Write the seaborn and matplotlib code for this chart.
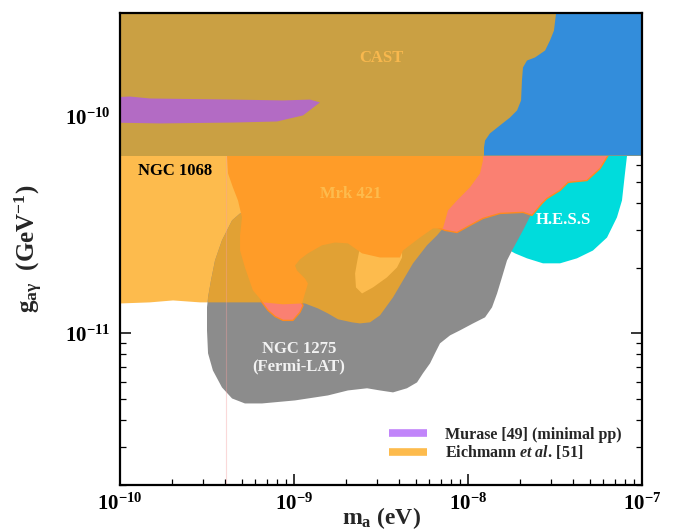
import numpy as np
import matplotlib
matplotlib.use('Agg')
import matplotlib.pyplot as plt
import seaborn as sns
from matplotlib.lines import Line2D

# all region boundaries are log10(m_a / eV) and log10(g / GeV^-1)
cast_limit = 6.6e-11
line_ma = 4.06e-10

blue_lm = [-7.494, -7.494, -7.506, -7.529, -7.557, -7.615, -7.661, -7.684, -7.690, -7.695,
           -7.718, -7.759, -7.816, -7.874, -7.902, -7.908, -7.908, -6.9, -6.9]
blue_lg = [-9.49, -9.525, -9.604, -9.650, -9.696, -9.728, -9.742, -9.774, -9.834, -9.926,
           -9.972, -10.005, -10.041, -10.078, -10.111, -10.143, -10.180, -10.180, -9.49]

murase_lm = [-10.06, -9.943, -9.828, -9.351, -9.063, -8.908, -8.851, -8.948, -9.098, -9.351, -9.770, -10.06]
murase_lg = [-9.912, -9.908, -9.917, -9.922, -9.926, -9.922, -9.935, -9.995, -10.023, -10.028, -10.032, -10.028]

eich_lm = [-10.12, -9.253, -9.253, -9.368, -9.540, -9.695, -9.828, -10.0, -10.12]
eich_lg = [-10.11, -10.11, -10.857, -10.857, -10.857, -10.848, -10.857, -10.862, -10.862]

hess_lm = [-7.241, -7.086, -7.086, -7.098, -7.115, -7.144, -7.201, -7.282, -7.374, -7.471,
           -7.569, -7.661, -7.730, -7.759, -7.787, -7.730, -7.586, -7.414]
hess_lg = [-10.111, -10.111, -10.180, -10.263, -10.387, -10.465, -10.558, -10.618, -10.654, -10.677,
           -10.677, -10.654, -10.631, -10.618, -10.594, -10.479, -10.341, -10.203]

ngc1275_lm = [-9.494, -9.477, -9.454, -9.414, -9.356, -9.310, -8.966, -8.391, -8.161, -7.989,
              -7.816, -7.644, -7.638, -7.684, -7.747, -7.776, -7.805, -7.833, -7.862, -7.902,
              -7.971, -8.046, -8.103, -8.161, -8.190, -8.218, -8.259, -8.293, -8.351, -8.431,
              -8.506, -8.580, -8.690, -8.805, -8.994, -9.184, -9.282, -9.356, -9.414, -9.466,
              -9.494, -9.500, -9.500]
ngc1275_lg = [-10.834, -10.756, -10.664, -10.571, -10.479, -10.447, -10.488, -10.553, -10.516, -10.479,
              -10.419, -10.410, -10.452, -10.525, -10.618, -10.664, -10.742, -10.816, -10.880, -10.926,
              -10.954, -10.986, -11.009, -11.046, -11.092, -11.138, -11.184, -11.226, -11.253, -11.272,
              -11.263, -11.253, -11.263, -11.286, -11.309, -11.323, -11.323, -11.300, -11.249, -11.171,
              -11.092, -10.986, -10.880]

tan_lm = [-9.494, -9.494, -9.477, -9.454, -9.414, -9.356, -9.310, -9.195, -8.966, -8.678,
          -8.391, -8.218, -8.144, -8.178, -8.236, -8.316, -8.374, -8.431, -8.506, -8.563,
          -8.621, -8.667, -8.747, -8.805, -8.862, -8.937, -9.080, -9.282]
tan_lg = [-10.857, -10.834, -10.756, -10.664, -10.571, -10.479, -10.447, -10.456, -10.502, -10.548,
          -10.571, -10.507, -10.516, -10.548, -10.594, -10.677, -10.756, -10.834, -10.917, -10.949,
          -10.954, -10.949, -10.935, -10.908, -10.885, -10.862, -10.857, -10.857]

island_lm = [-8.621, -8.638, -8.649, -8.644, -8.609, -8.546, -8.466, -8.408, -8.379, -8.379, -8.506]
island_lg = [-10.604, -10.673, -10.724, -10.788, -10.816, -10.788, -10.742, -10.696, -10.650, -10.599, -10.594]

salmon_lm = [-8.161, -7.184, -7.195, -7.241, -7.316, -7.425, -7.471, -7.546, -7.575, -7.632,
             -7.684, -7.816, -7.914, -7.989, -8.063, -8.132, -8.190, -8.391, -8.736, -8.879,
             -9.052, -8.994, -8.966, -8.948, -8.966, -9.006, -9.063, -9.109, -9.149, -9.184,
             -9.207, -9.253, -9.253, -8.966]
salmon_lg = [-10.111, -10.111, -10.180, -10.240, -10.295, -10.304, -10.341, -10.378, -10.401, -10.456,
             -10.442, -10.447, -10.470, -10.502, -10.535, -10.525, -10.507, -10.571, -10.562, -10.594,
             -10.700, -10.802, -10.848, -10.871, -10.903, -10.940, -10.940, -10.922, -10.894, -10.857,
             -10.802, -10.664, -10.387, -10.203]

mrk421_lm = [-9.385, -9.385, -9.379, -9.351, -9.322, -9.299, -9.310, -9.310, -9.282, -9.236,
             -9.178, -9.063, -8.954, -8.920, -8.937, -8.983, -8.994, -8.966, -8.920, -8.839,
             -8.764, -8.690, -8.609, -8.506, -8.391, -8.374, -8.276, -8.201, -8.144, -8.115,
             -8.063, -7.989, -7.931, -7.914, -7.908]
mrk421_lg = [-10.111, -10.180, -10.263, -10.327, -10.387, -10.465, -10.548, -10.618, -10.696, -10.802,
             -10.857, -10.866, -10.862, -10.770, -10.747, -10.710, -10.687, -10.659, -10.631, -10.594,
             -10.581, -10.585, -10.631, -10.650, -10.650, -10.618, -10.558, -10.516, -10.516, -10.433,
             -10.387, -10.327, -10.263, -10.203, -10.111]

legend_labels = ['Murase [49] (minimal pp)', r'Eichmann $\mathit{et\ al.}\,$[51]']

sns.set_style('ticks')
plt.rcParams['font.family'] = ['Liberation Serif', 'DejaVu Serif']
plt.rcParams['font.weight'] = 'bold'
plt.rcParams['axes.labelweight'] = 'bold'
plt.rcParams['mathtext.fontset'] = 'custom'
plt.rcParams['mathtext.rm'] = 'Liberation Serif:bold'
plt.rcParams['mathtext.bf'] = 'Liberation Serif:bold'
plt.rcParams['mathtext.it'] = 'Liberation Serif:bold:italic'
plt.rcParams['mathtext.default'] = 'bf'

fig = plt.figure(figsize=(6.73, 5.31), dpi=100)
ax = fig.add_axes([120 / 673, 1 - 485 / 531, 522 / 673, 472 / 531])


def region(lm, lg, z, **kw):
    ax.fill(np.power(10.0, lm), np.power(10.0, lg), zorder=z, **kw)


region(eich_lm, eich_lg, 1, color='#FDBB4D', lw=0)
region(hess_lm, hess_lg, 2, color='#00DCDC', lw=0)
region(ngc1275_lm, ngc1275_lg, 3, color='#8C8C8C', lw=0)
region(tan_lm, tan_lg, 4, color='#E1A134', lw=0)
region(island_lm, island_lg, 4.5, color='#FDBB4D', lw=0)
region(salmon_lm, salmon_lg, 5, facecolor='#FA8072', edgecolor='#FF8A1E', lw=1.0)
region(mrk421_lm, mrk421_lg, 5.5, color='#FF9C28', lw=0)
ax.plot([line_ma, line_ma], [1e-13, cast_limit], color='#F4A0A0', lw=0.8, alpha=0.4, zorder=5.8)
ax.axhspan(cast_limit, 1e-9, color='#CAA043', lw=0, zorder=6)
region(blue_lm, blue_lg, 7, color='#338DDB', lw=0)
region(murase_lm, murase_lg, 8, color='#B36BC4', lw=0)

ax.set_xscale('log')
ax.set_yscale('log')
ax.set_xlim(1e-10, 1e-7)
ax.set_ylim(2e-12, 3e-10)

ax.text(3.2e-9, 1.87e-10, 'CAST', color='#F8B84E', fontsize=12, ha='center', va='center', zorder=10)
ax.text(2.07e-10, 5.58e-11, 'NGC 1068', color='black', fontsize=12, ha='center', va='center', zorder=10)
ax.text(2.13e-9, 4.41e-11, 'Mrk 421', color='#FDBB4D', fontsize=12, ha='center', va='center', zorder=10)
ax.text(3.56e-8, 3.35e-11, 'H.E.S.S', color='white', fontsize=12, ha='center', va='center', zorder=10)
ax.text(1.07e-9, 8.43e-12, 'NGC 1275', color='#F2F2F2', fontsize=12, ha='center', va='center', zorder=10)
ax.text(1.07e-9, 7.05e-12, '(Fermi-LAT)', color='#F2F2F2', fontsize=12, ha='center', va='center', zorder=10)

handles = [Line2D([], [], color='#C185FA', lw=5.5, solid_capstyle='butt'),
           Line2D([], [], color='#FDBB4D', lw=5.5, solid_capstyle='butt')]
ax.legend(handles, legend_labels, loc='lower left', bbox_to_anchor=(0.515, 0.05), frameon=False,
          fontsize=11.5, handlelength=2.4, handletextpad=1.1, labelspacing=0.05,
          borderpad=0, borderaxespad=0)

ax.set_xlabel(r'$m_a$ (eV)', fontsize=17)
ax.xaxis.set_label_coords(0.5, -0.043)
ax.set_ylabel(r'$g_{a\gamma}$  (GeV$^{-1}$)', fontsize=18, labelpad=14)

ax.yaxis.set_minor_formatter(matplotlib.ticker.NullFormatter())
ax.xaxis.set_minor_formatter(matplotlib.ticker.NullFormatter())
ax.tick_params(which='both', direction='in', top=True, right=True, colors='black', labelsize=15)
ax.tick_params(which='major', length=8, width=1.1)
ax.tick_params(which='minor', length=4, width=0.9)
ax.tick_params(axis='x', pad=6)
ax.tick_params(axis='y', pad=7)
for s in ax.spines.values():
    s.set_linewidth(1.6)
    s.set_color('black')
    s.set_zorder(12)

fig.savefig('out.png', dpi=100)
